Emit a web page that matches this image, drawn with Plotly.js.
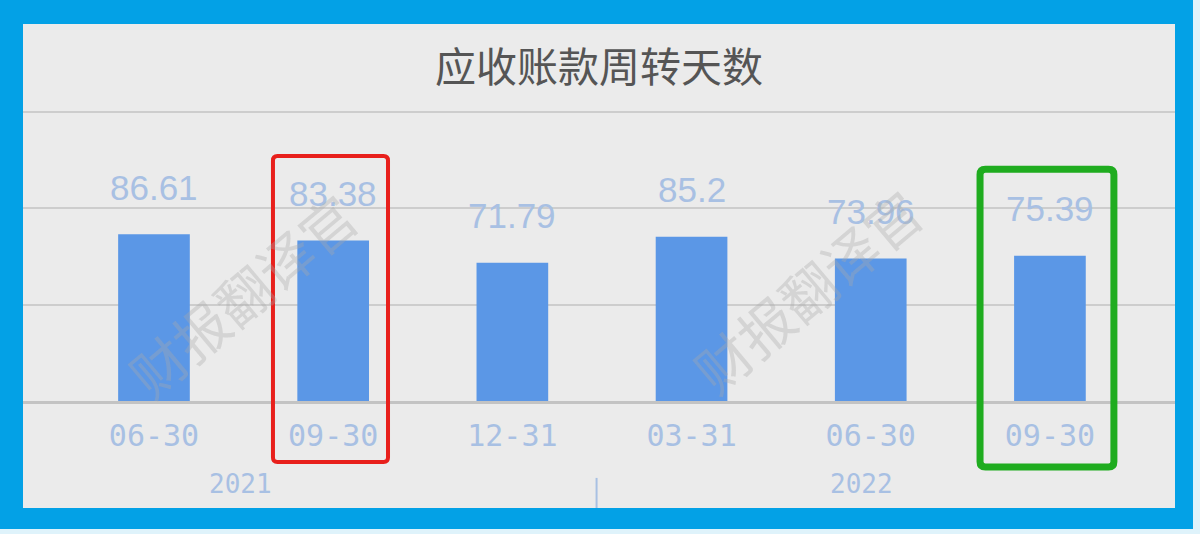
<!doctype html>
<html>
<head>
    <meta charset="utf-8">
    <title>应收账款周转天数</title>
    <style>
        html, body {margin: 0; padding: 0; background: #03a1e6; width: 1200px; height: 534px; overflow: hidden;}
        #chart {position: absolute; left: 23px; top: 24px; width: 1152px; height: 484px;}
        #edgeR {position: absolute; left: 1193px; top: 0; width: 7px; height: 534px; background: #dff3fb;}
        #edgeB {position: absolute; left: 0; top: 529px; width: 1200px; height: 5px; background: #dff3fb;}
    </style>
    <script src="https://cdn.plot.ly/plotly-3.0.1.min.js"></script>
</head>
<body>
    <div id="edgeR"></div>
    <div id="edgeB"></div>
    <div id="chart"></div>
    <script>
        // ====== DATA ==================================================
        let periods = ['06-30', '09-30', '12-31', '03-31', '06-30', '09-30'];
        let days = [86.61, 83.38, 71.79, 85.2, 73.96, 75.39];
        let years = ['2021', '2022'];
        let yearPos = [0.48, 3.95];   // where the year labels sit, in bar index units
        let redBox = 1;     // index of the bar circled in red
        let greenBox = 5;   // index of the bar circled in green

        // ====== SETTINGS ==================================================
        let labelColor = '#a8c0e3';
        let idx = periods.map((p, i) => i);

        let trace = {
            x: idx,
            y: days,
            type: 'bar',
            width: 0.40,
            marker: {color: '#5b97e6'},
            hoverinfo: 'skip',
        };

        let annotations = [];
        // value labels float well above each bar
        days.forEach((v, i) => {
            annotations.push({
                x: i, y: v, xref: 'x', yref: 'y',
                text: String(v),
                showarrow: false,
                xanchor: 'center',
                yanchor: 'middle',
                yshift: 47,
                font: {family: 'Liberation Sans, Arial', size: 35, color: labelColor},
            });
        });
        years.forEach((yr, k) => {
            annotations.push({
                x: yearPos[k], y: -0.22, xref: 'x', yref: 'paper',
                text: yr,
                showarrow: false,
                xanchor: 'center',
                yanchor: 'middle',
                font: {family: 'DejaVu Sans Mono', size: 26, color: labelColor},
            });
        });
        // watermark
        [[0.19, 0.285], [0.68, 0.295]].forEach(p => {
            annotations.push({
                x: p[0], y: p[1], xref: 'paper', yref: 'paper',
                text: '财报翻译官',
                showarrow: false,
                xanchor: 'center',
                yanchor: 'middle',
                textangle: -40,
                font: {family: 'Noto Sans CJK SC', size: 55, color: 'rgba(170,170,170,0.35)'},
            });
        });

        // rounded rectangle as an svg path, x in bar units, y in paper units
        function roundBox(xa, xb, ya, yb, r, ry) {
            return 'M' + (xa + r) + ',' + yb + ' L' + (xb - r) + ',' + yb +
                ' Q' + xb + ',' + yb + ' ' + xb + ',' + (yb - ry) +
                ' L' + xb + ',' + (ya + ry) + ' Q' + xb + ',' + ya + ' ' + (xb - r) + ',' + ya +
                ' L' + (xa + r) + ',' + ya + ' Q' + xa + ',' + ya + ' ' + xa + ',' + (ya + ry) +
                ' L' + xa + ',' + (yb - ry) + ' Q' + xa + ',' + yb + ' ' + (xa + r) + ',' + yb + ' Z';
        }

        let shapes = [
            // divider between the two years
            {type: 'line', xref: 'x', yref: 'paper', x0: 2.47, x1: 2.47, y0: -0.204, y1: -0.29,
             line: {color: labelColor, width: 2}},
            {type: 'path', xref: 'x', yref: 'paper',
             path: roundBox(redBox - 0.336, redBox + 0.306, -0.162, 0.65, 0.025, 0.012),
             line: {color: '#e8201c', width: 4}},
            {type: 'path', xref: 'x', yref: 'paper',
             path: roundBox(greenBox - 0.39, greenBox + 0.357, -0.175, 0.615, 0.03, 0.014),
             line: {color: '#1fac1f', width: 7}},
        ];

        let layout = {
            width: 1152,
            height: 484,
            margin: {l: 0, r: 0, t: 0, b: 107},
            paper_bgcolor: '#ebebeb',
            plot_bgcolor: '#ebebeb',
            showlegend: false,
            title: {
                text: '应收账款周转天数',
                x: 0.5, xanchor: 'center',
                y: 0.909, yanchor: 'middle', yref: 'container',
                font: {family: 'Noto Sans CJK SC', size: 41, color: '#555555'},
            },
            xaxis: {
                range: [-0.731, 5.698],
                tickmode: 'array',
                tickvals: idx,
                ticktext: periods,
                showgrid: false,
                zeroline: false,
                showline: true,
                linecolor: '#c3c3c3',
                linewidth: 3,
                ticks: '',
                ticklabelstandoff: 6,
                tickfont: {family: 'DejaVu Sans Mono', size: 30, color: labelColor},
                fixedrange: true,
            },
            yaxis: {
                range: [0, 195.7],
                tickmode: 'array',
                tickvals: [50, 100, 150],
                showticklabels: false,
                gridcolor: '#cdcdcd',
                gridwidth: 2,
                zeroline: false,
                fixedrange: true,
            },
            annotations: annotations,
            shapes: shapes,
        };

        Plotly.newPlot(document.getElementById('chart'), [trace], layout, {displayModeBar: false, staticPlot: true});
    </script>
</body>
</html>
